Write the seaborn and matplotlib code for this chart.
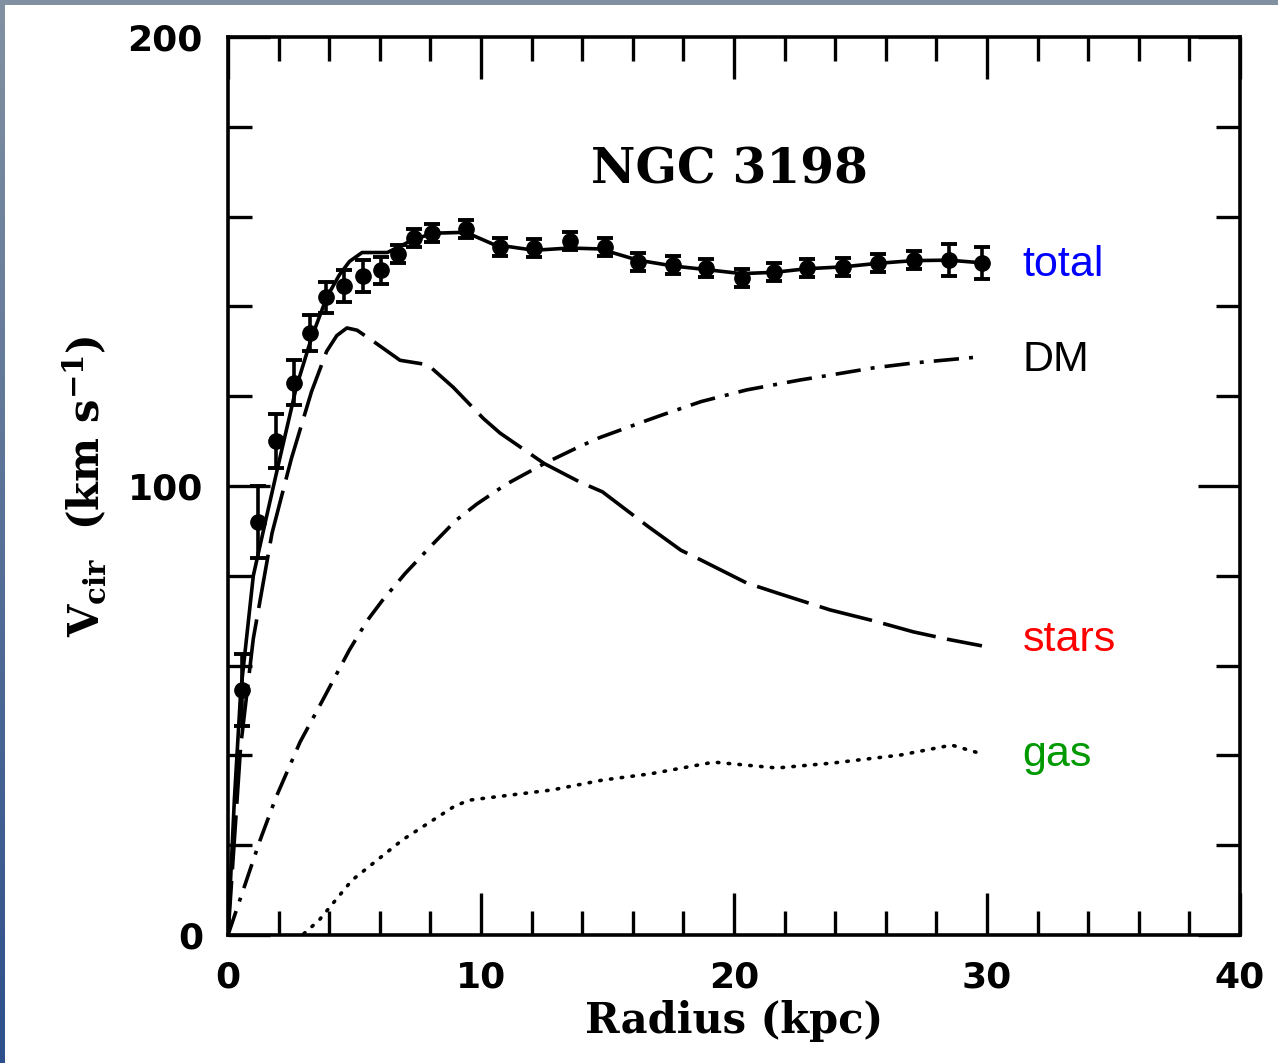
import numpy as np
import pandas as pd
import seaborn as sns
import matplotlib.pyplot as plt
from matplotlib.ticker import MultipleLocator

# rotation curve data points (radius kpc, velocity km/s, error)
obs_r = [0.54, 1.2, 1.9, 2.6, 3.24, 3.87, 4.6, 5.34, 6.05, 6.7, 7.35, 8.06, 9.4, 10.75,
         12.1, 13.5, 14.9, 16.2, 17.6, 18.9, 20.3, 21.6, 22.9, 24.3, 25.7, 27.1, 28.5, 29.8]
obs_v = [54.5, 92, 110, 123, 134, 142, 144.5, 146.8, 148, 151.7, 155.2, 156.3, 157.2, 153.2,
         153, 154.6, 153.2, 149.9, 149.2, 148.6, 146.3, 147.7, 148.6, 148.8, 149.7, 150.3, 150.3, 149.7]
obs_err = [8, 8, 6, 5, 4, 3.5, 3.5, 3.5, 3, 2, 2, 2, 2, 2,
           2, 2, 2, 2, 2, 2, 2, 2, 2, 2, 2, 2, 3.5, 3.5]

# model components
total_r = [0, 0.25, 0.5, 1.0, 1.5, 2.0, 2.7, 3.3, 3.9, 4.4, 4.8, 5.3, 6.3, 7.3, 8.1, 9.4,
           10.5, 12.1, 13.5, 14.7, 16.2, 17.6, 18.9, 20.3, 21.6, 22.9, 24.3, 25.7, 27.1, 28.5, 29.8]
total_v = [0, 30, 54, 80, 92.6, 105, 122, 133, 142, 147, 150, 152, 152, 154.8, 156.3, 156.5,
           153.8, 152.5, 153, 152.8, 150.3, 149, 148.2, 147.3, 147.6, 148.4, 148.8, 149.6, 150.2, 150.3, 149.7]

stars_r = [0, 0.5, 1.0, 1.74, 2.5, 3.3, 3.9, 4.3, 4.7, 5.1, 5.8, 6.8, 7.9, 8.9, 10.1, 10.75,
           12.5, 13.9, 14.8, 16.6, 17.9, 18.7, 20.5, 21.8, 23.8, 25.5, 27.1, 28.5, 29.8]
stars_v = [0, 42, 66, 89.5, 106, 121, 130, 133.5, 135.2, 134.7, 132, 128, 127, 122, 115, 111.8,
           105, 100.9, 98.7, 91, 85.7, 83.5, 78.4, 76, 72.4, 70, 67.5, 65.8, 64.4]

dm_r = [0, 0.6, 1.26, 1.9, 2.85, 3.6, 4.8, 5.5, 6.1, 7.0, 8.0, 9.0, 9.84, 11.0, 12.5, 13.9,
        14.7, 16.6, 17.2, 18.7, 20.5, 22.6, 23.8, 25.5, 27.1, 29.6]
dm_v = [0, 10, 21, 30.7, 43, 50.8, 63.5, 70, 74.5, 80.5, 86.5, 92.3, 96, 100.4, 105, 108.8,
        110.8, 114.7, 115.9, 118.8, 121.4, 123.6, 124.7, 126.3, 127.4, 128.7]

gas_r = [3.0, 3.6, 4.9, 6.9, 8.9, 9.5, 10.2, 12.8, 14.8, 16.7, 19.2, 21.7, 23.9, 26.6, 28.6, 29.7]
gas_v = [0.3, 3.3, 12.2, 21.2, 28.5, 30, 30.5, 32.3, 34.5, 35.9, 38.5, 37.2, 38.3, 40.1, 42.3, 40.5]

labels = ["total", "DM", "stars", "gas"]
label_colors = ["#0000ff", "#000000", "#ff0000", "#009900"]
label_v = [149.2, 128, 65.7, 40]

sns.set_theme(style="white")
plt.rcParams['font.family'] = ['DejaVu Sans']
plt.rcParams['mathtext.fontset'] = 'dejavuserif'
plt.rcParams['mathtext.default'] = 'bf'
plt.rcParams['text.color'] = 'black'
plt.rcParams['axes.labelcolor'] = 'black'

fig = plt.figure(figsize=(12.78, 10.63), dpi=100)
ax = fig.add_axes([228 / 1278, 1 - 935 / 1063, (1240 - 228) / 1278, (935 - 37) / 1063])

lw = 2.6
sns.lineplot(x=total_r, y=total_v, ax=ax, color='black', linewidth=lw, sort=False)
sns.lineplot(x=stars_r, y=stars_v, ax=ax, color='black', linewidth=lw, sort=False,
             linestyle=(0, (15, 3.2)))
sns.lineplot(x=dm_r, y=dm_v, ax=ax, color='black', linewidth=lw, sort=False,
             linestyle=(0, (7, 2.8, 1.1, 2.8)))
sns.lineplot(x=gas_r, y=gas_v, ax=ax, color='black', linewidth=lw, sort=False,
             linestyle=(0, (0.4, 2.6)), dash_capstyle='round')

ax.errorbar(obs_r, obs_v, yerr=obs_err, fmt='o', color='black', ms=11,
            elinewidth=2.6, capsize=5.8, capthick=2.8, zorder=5)

ax.set_xlim(0, 40)
ax.set_ylim(0, 200)
ax.xaxis.set_major_locator(MultipleLocator(10))
ax.xaxis.set_minor_locator(MultipleLocator(2))
ax.yaxis.set_major_locator(MultipleLocator(100))
ax.yaxis.set_minor_locator(MultipleLocator(20))
ax.tick_params(which='both', direction='in', bottom=True, left=True, top=True, right=True,
               width=2.4, colors='black')
ax.tick_params(which='major', length=30, pad=18)
ax.tick_params(which='minor', length=17)
for lab in ax.get_xticklabels() + ax.get_yticklabels():
    lab.set_fontsize(26)
    lab.set_fontweight('bold')
for sp in ax.spines.values():
    sp.set_linewidth(2.6)
    sp.set_color('black')

ax.set_xlabel('Radius (kpc)', fontsize=30, fontweight='bold', family='DejaVu Serif', labelpad=4)
ax.set_ylabel('V$_{cir}$  (km s$^{-1}$)', fontsize=30, fontweight='bold',
              family='DejaVu Serif', labelpad=14)
ax.text(19.8, 170.4, 'NGC 3198', fontsize=35, fontweight='bold', family='DejaVu Serif',
        ha='center', va='center')

for name, col, v in zip(labels, label_colors, label_v):
    ax.text(31.4, v, name, color=col, fontsize=31, family='Liberation Sans',
            ha='left', va='center', clip_on=False)

# blue-grey frame strips at top and left edge
grad = np.linspace(0, 1, 256).reshape(-1, 1)
left = fig.add_axes([0, 0, 5 / 1278, 1])
left.imshow(np.dstack([np.interp(grad, [0, 1], [130 / 255, 45 / 255]),
                       np.interp(grad, [0, 1], [145 / 255, 80 / 255]),
                       np.interp(grad, [0, 1], [162 / 255, 140 / 255])]),
            aspect='auto', extent=[0, 1, 1, 0])
left.axis('off')
top = fig.add_axes([0, 1 - 5 / 1063, 1, 5 / 1063])
top.imshow(np.full((1, 2, 3), [130 / 255, 145 / 255, 162 / 255]), aspect='auto')
top.axis('off')

fig.savefig('out.png', dpi=100, facecolor='white')
